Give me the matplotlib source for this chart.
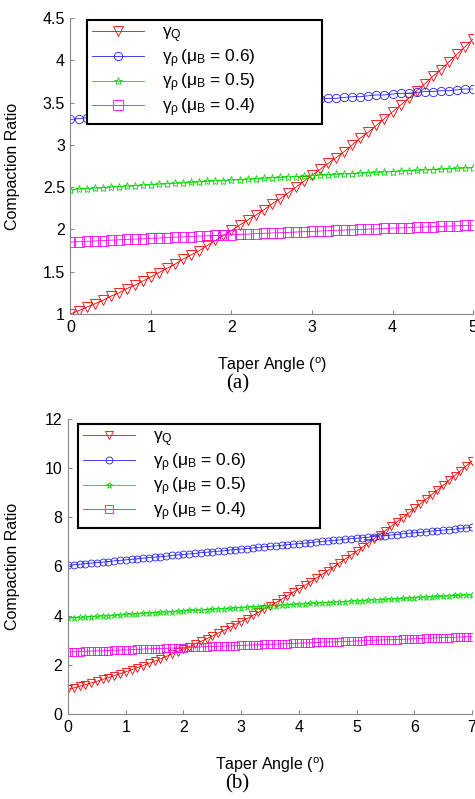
import matplotlib
matplotlib.use("Agg")
import matplotlib.pyplot as plt

plt.rcParams["font.family"] = ["Liberation Sans", "DejaVu Sans"]
plt.rcParams["mathtext.fontset"] = "custom"
plt.rcParams["mathtext.rm"] = "Liberation Sans"
plt.rcParams["mathtext.it"] = "Liberation Sans"

# taper angle (degrees), sampled every 0.1
taper_b = [0.0, 0.1, 0.2, 0.3, 0.4, 0.5, 0.6, 0.7, 0.8, 0.9,
           1.0, 1.1, 1.2, 1.3, 1.4, 1.5, 1.6, 1.7, 1.8, 1.9,
           2.0, 2.1, 2.2, 2.3, 2.4, 2.5, 2.6, 2.7, 2.8, 2.9,
           3.0, 3.1, 3.2, 3.3, 3.4, 3.5, 3.6, 3.7, 3.8, 3.9,
           4.0, 4.1, 4.2, 4.3, 4.4, 4.5, 4.6, 4.7, 4.8, 4.9,
           5.0, 5.1, 5.2, 5.3, 5.4, 5.5, 5.6, 5.7, 5.8, 5.9,
           6.0, 6.1, 6.2, 6.3, 6.4, 6.5, 6.6, 6.7, 6.8, 6.9, 7.0]
taper_a = taper_b[:51]

# ---- panel (a) ----
gq_a = [1.00, 1.04, 1.08, 1.12, 1.16, 1.21, 1.25, 1.30, 1.34, 1.39,
        1.44, 1.49, 1.54, 1.59, 1.65, 1.70, 1.75, 1.81, 1.87, 1.93,
        1.99, 2.05, 2.11, 2.17, 2.23, 2.30, 2.36, 2.43, 2.50, 2.57,
        2.64, 2.71, 2.78, 2.85, 2.92, 3.00, 3.08, 3.15, 3.23, 3.31,
        3.39, 3.47, 3.55, 3.64, 3.72, 3.81, 3.89, 3.98, 4.07, 4.16, 4.25]
gr06_a = [3.30, 3.31, 3.32, 3.33, 3.33, 3.34, 3.35, 3.36, 3.37, 3.37,
          3.38, 3.39, 3.40, 3.41, 3.41, 3.42, 3.43, 3.44, 3.45, 3.45,
          3.46, 3.47, 3.48, 3.48, 3.49, 3.50, 3.50, 3.51, 3.52, 3.53,
          3.53, 3.54, 3.55, 3.55, 3.56, 3.57, 3.57, 3.58, 3.59, 3.59,
          3.60, 3.61, 3.61, 3.62, 3.63, 3.63, 3.64, 3.64, 3.65, 3.66, 3.66]
gr05_a = [2.470, 2.476, 2.482, 2.488, 2.494, 2.500, 2.505, 2.511, 2.517, 2.523,
          2.528, 2.534, 2.540, 2.545, 2.551, 2.556, 2.562, 2.567, 2.573, 2.578,
          2.584, 2.589, 2.594, 2.600, 2.605, 2.610, 2.615, 2.620, 2.625, 2.630,
          2.636, 2.641, 2.646, 2.650, 2.655, 2.660, 2.665, 2.670, 2.675, 2.680,
          2.684, 2.689, 2.694, 2.698, 2.703, 2.708, 2.712, 2.717, 2.721, 2.726, 2.730]
gr04_a = [1.850, 1.855, 1.859, 1.864, 1.868, 1.873, 1.877, 1.882, 1.886, 1.890,
          1.895, 1.899, 1.903, 1.908, 1.912, 1.916, 1.921, 1.925, 1.929, 1.933,
          1.937, 1.941, 1.945, 1.950, 1.954, 1.958, 1.961, 1.965, 1.969, 1.973,
          1.977, 1.981, 1.985, 1.989, 1.993, 1.996, 2.000, 2.004, 2.007, 2.011,
          2.015, 2.018, 2.022, 2.026, 2.029, 2.033, 2.036, 2.040, 2.043, 2.047, 2.050]

# ---- panel (b) ----
gq_b = [1.00, 1.06, 1.13, 1.19, 1.26, 1.33, 1.41, 1.48, 1.56, 1.64,
        1.72, 1.80, 1.88, 1.97, 2.06, 2.15, 2.24, 2.34, 2.44, 2.54,
        2.64, 2.74, 2.85, 2.95, 3.06, 3.17, 3.29, 3.40, 3.52, 3.64,
        3.76, 3.88, 4.01, 4.14, 4.27, 4.40, 4.53, 4.67, 4.81, 4.95,
        5.09, 5.23, 5.38, 5.53, 5.68, 5.83, 5.98, 6.14, 6.30, 6.46,
        6.62, 6.78, 6.95, 7.12, 7.29, 7.46, 7.64, 7.81, 7.99, 8.17,
        8.36, 8.54, 8.73, 8.92, 9.11, 9.30, 9.50, 9.69, 9.89, 10.09, 10.30]
gr06_b = [6.05, 6.07, 6.09, 6.12, 6.14, 6.16, 6.18, 6.20, 6.23, 6.25,
          6.27, 6.29, 6.31, 6.34, 6.36, 6.38, 6.40, 6.42, 6.45, 6.47,
          6.49, 6.51, 6.53, 6.56, 6.58, 6.60, 6.62, 6.64, 6.67, 6.69,
          6.71, 6.73, 6.75, 6.78, 6.80, 6.82, 6.84, 6.86, 6.89, 6.91,
          6.93, 6.95, 6.97, 7.00, 7.02, 7.04, 7.06, 7.08, 7.11, 7.13,
          7.15, 7.17, 7.19, 7.22, 7.24, 7.26, 7.28, 7.30, 7.33, 7.35,
          7.37, 7.39, 7.41, 7.44, 7.46, 7.48, 7.50, 7.52, 7.55, 7.57, 7.59]
gr05_b = [3.90, 3.92, 3.93, 3.95, 3.96, 3.97, 3.99, 4.00, 4.02, 4.03,
          4.05, 4.06, 4.08, 4.09, 4.11, 4.12, 4.14, 4.15, 4.16, 4.18,
          4.19, 4.21, 4.22, 4.23, 4.25, 4.26, 4.28, 4.29, 4.30, 4.32,
          4.33, 4.35, 4.36, 4.37, 4.39, 4.40, 4.41, 4.43, 4.44, 4.46,
          4.47, 4.48, 4.50, 4.51, 4.52, 4.53, 4.55, 4.56, 4.57, 4.59,
          4.60, 4.61, 4.63, 4.64, 4.65, 4.66, 4.68, 4.69, 4.70, 4.72,
          4.73, 4.74, 4.75, 4.77, 4.78, 4.79, 4.80, 4.82, 4.83, 4.84, 4.85]
gr04_b = [2.52, 2.53, 2.54, 2.55, 2.56, 2.57, 2.57, 2.58, 2.59, 2.60,
          2.61, 2.62, 2.63, 2.64, 2.65, 2.66, 2.66, 2.67, 2.68, 2.69,
          2.70, 2.71, 2.72, 2.73, 2.74, 2.75, 2.75, 2.76, 2.77, 2.78,
          2.79, 2.80, 2.81, 2.82, 2.83, 2.84, 2.84, 2.85, 2.86, 2.87,
          2.88, 2.89, 2.90, 2.91, 2.92, 2.93, 2.93, 2.94, 2.95, 2.96,
          2.97, 2.98, 2.99, 3.00, 3.01, 3.02, 3.02, 3.03, 3.04, 3.05,
          3.06, 3.07, 3.08, 3.09, 3.10, 3.11, 3.11, 3.12, 3.13, 3.14, 3.15]

labels = [r"$\gamma_{\mathrm{Q}}$",
          r"$\gamma_{\rho}\,(\mu_{\mathrm{B}}$ = 0.6)",
          r"$\gamma_{\rho}\,(\mu_{\mathrm{B}}$ = 0.5)",
          r"$\gamma_{\rho}\,(\mu_{\mathrm{B}}$ = 0.4)"]
colors = ["#ff0000", "#2222ff", "#00dd00", "#ff00ff"]
markers = ["v", "o", "*", "s"]

fig = plt.figure(figsize=(4.75, 7.99), dpi=100)


def draw_panel(ax, x, series, sizes, xmax, ylim, yticks, leg_box, ylab_x):
    for y, c, m, ms, lab in zip(series, colors, markers, sizes, labels):
        ax.plot(x, y, color=c, lw=0.6, marker=m, ms=ms, mfc="none",
                mec=c, mew=0.6, label=lab)
    ax.set_xlim(0, xmax)
    ax.set_ylim(*ylim)
    ax.set_yticks(yticks)
    ax.set_xticks(range(0, xmax + 1))
    for s in ["top", "right"]:
        ax.spines[s].set_visible(False)
    for s in ["left", "bottom"]:
        ax.spines[s].set_color("#888888")
    ax.tick_params(direction="in", length=3, color="#888888",
                   labelsize=11.5, pad=4)
    ax.set_xlabel("Taper Angle ($^{\\mathrm{o}}$)", fontsize=11.5)
    ax.set_ylabel("Compaction Ratio", fontsize=11.5)
    ax.yaxis.set_label_coords(ylab_x, 0.5)
    ax.xaxis.set_label_coords(0.5, -0.14)
    leg = ax.legend(loc="upper left", bbox_to_anchor=leg_box, mode="expand",
                    borderaxespad=0, fontsize=12.5, handlelength=3.0,
                    handletextpad=1.0, labelspacing=0.12, fancybox=False,
                    framealpha=1, edgecolor="black", borderpad=0.3)
    leg.get_frame().set_linewidth(1.5)


ax1 = fig.add_axes([0.1484, 0.6070, 0.8474, 0.3705])
draw_panel(ax1, taper_a, [gq_a, gr06_a, gr05_a, gr04_a], [7.5, 6, 6, 6.5],
           5, (1, 4.5), [1, 1.5, 2, 2.5, 3, 3.5, 4, 4.5],
           (0.041, 0.655, 0.584, 0.338), -0.125)
ax1.set_yticklabels(["1", "1.5", "2", "2.5", "3", "3.5", "4", "4.5"])

ax2 = fig.add_axes([0.1432, 0.1064, 0.8505, 0.3692])
draw_panel(ax2, taper_b, [gq_b, gr06_b, gr05_b, gr04_b], [6, 5, 5, 5.5],
           7, (0, 12), [0, 2, 4, 6, 8, 10, 12],
           (0.025, 0.641, 0.599, 0.342), -0.119)

fig.text(0.5, 1 - 384 / 799, "(a)", ha="center", va="center",
         fontsize=15, family="Liberation Serif")
fig.text(0.5, 1 - 784 / 799, "(b)", ha="center", va="center",
         fontsize=15, family="Liberation Serif")

fig.savefig("out.png", dpi=100)
